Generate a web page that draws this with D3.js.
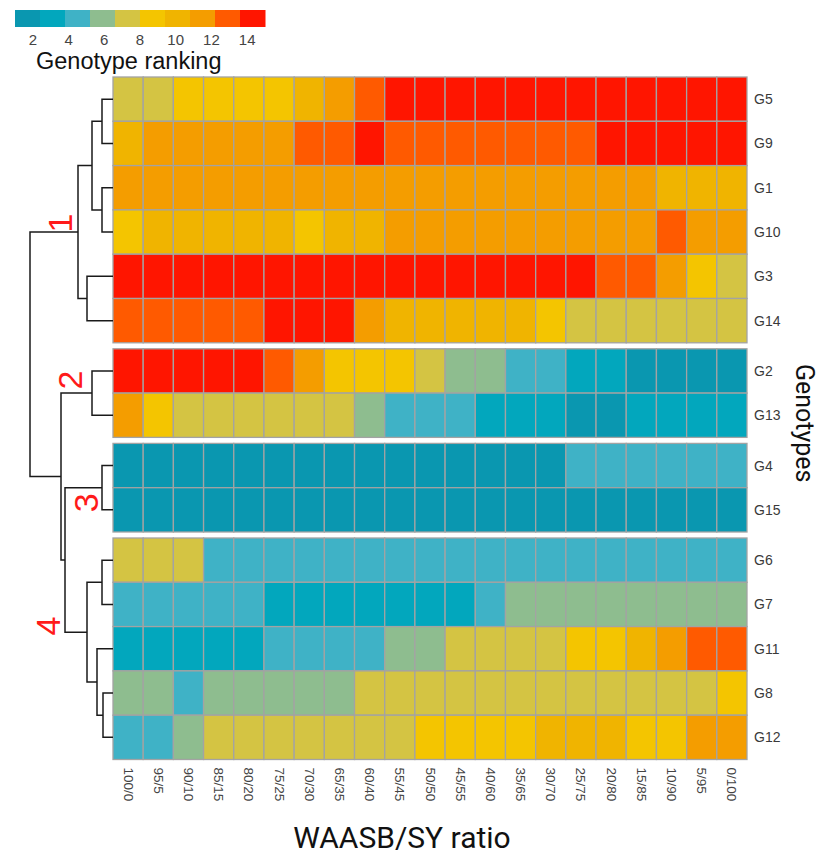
<!DOCTYPE html>
<html><head><meta charset="utf-8">
<script src="https://cdn.jsdelivr.net/npm/d3@7"></script>
<style>body{margin:0;background:#fff}svg{display:block}</style>
</head><body>
<svg id="chart" width="819" height="857"></svg>
<script>
// ---------- data ----------
const ratios = ["100/0","95/5","90/10","85/15","80/20","75/25","70/30","65/35","60/40","55/45","50/50",
                "45/55","40/60","35/65","30/70","25/75","20/80","15/85","10/90","5/95","0/100"];
const genotypes = ["G5","G9","G1","G10","G3","G14","G2","G13","G4","G15","G6","G7","G11","G8","G12"];
const clusters  = [1,1,1,1,1,1,2,2,3,3,4,4,4,4,4];
const legendTicks = [2,4,6,8,10,12,14];

const rankG5  = [7,7,9,9,9,9,10,11,13,15,15,15,15,15,15,15,15,15,15,15,15];
const rankG9  = [10,12,12,12,12,12,13,13,14,13,13,13,13,13,13,13,14,14,14,14,14];
const rankG1  = [11,11,11,11,11,11,11,11,11,12,12,12,12,12,12,12,12,12,10,10,10];
const rankG10 = [9,10,10,10,10,10,9,10,10,11,11,11,11,11,11,11,11,11,13,12,11];
const rankG3  = [15,15,15,15,15,14,14,14,15,14,14,14,14,14,14,14,13,13,12,9,7];
const rankG14 = [13,13,13,13,13,15,15,15,12,10,10,10,10,10,9,7,7,7,7,7,7];
const rankG2  = [14,14,14,14,14,13,12,9,9,9,7,6,6,5,5,3,3,2,2,2,2];
const rankG13 = [12,8,7,7,7,7,7,7,6,5,5,4,3,3,3,2,2,3,3,3,3];
const rankG4  = [2,2,2,2,2,2,2,2,2,2,2,2,2,2,2,4,4,4,4,4,4];
const rankG15 = [1,1,1,1,1,1,1,1,1,1,1,1,1,1,1,1,1,1,1,1,1];
const rankG6  = [7,7,7,4,4,4,4,4,4,4,4,4,4,4,4,4,4,4,4,4,4];
const rankG7  = [5,5,5,5,5,3,3,3,3,3,3,3,4,6,6,6,6,6,6,6,6];
const rankG11 = [3,3,3,3,3,4,4,4,4,6,6,7,7,7,7,9,9,10,11,13,13];
const rankG8  = [6,6,4,6,6,6,6,6,7,7,7,7,7,7,7,7,7,7,7,7,9];
const rankG12 = [4,4,6,7,7,7,7,7,7,7,9,9,9,9,10,10,10,9,9,12,12];

const rankings = {G5:rankG5,G9:rankG9,G1:rankG1,G10:rankG10,G3:rankG3,G14:rankG14,G2:rankG2,G13:rankG13,
                  G4:rankG4,G15:rankG15,G6:rankG6,G7:rankG7,G11:rankG11,G8:rankG8,G12:rankG12};

// dendrogram merges (children, merge height)
const merges = [
  {id:"a",  children:["G5","G9"],  height:1.1},
  {id:"b",  children:["G1","G10"], height:1.1},
  {id:"c",  children:["a","b"],    height:2.1},
  {id:"d",  children:["G3","G14"], height:2.6},
  {id:"k1", children:["c","d"],    height:3.5},
  {id:"k2", children:["G2","G13"], height:2.1},
  {id:"k3", children:["G4","G15"], height:1.1},
  {id:"g",  children:["G6","G7"],  height:1.1},
  {id:"h",  children:["G8","G12"], height:1.0},
  {id:"i",  children:["G11","h"],  height:1.6},
  {id:"k4", children:["g","i"],    height:2.6},
  {id:"j",  children:["k3","k4"],  height:4.8},
  {id:"l",  children:["k2","j"],   height:5.2},
  {id:"root", children:["k1","l"], height:8.3}
];
const clusterLabels = ["1","2","3","4"];

const palette = ["#0a97b0","#02a7bd","#3fb2c6","#8ebd8f","#d4c443","#f4c500","#f0b400","#f49d00","#ff5a00","#ff1500"];

// ---------- layout ----------
const svg = d3.select("#chart");
const hmLeft = 113, hmRight = 747, hmTop = 77, rowH = 44.3, groupGap = 6;

const color = d3.scaleQuantize().domain([1,15]).range(palette);
const x = d3.scaleBand().domain(ratios).range([hmLeft, hmRight]).padding(0);
const yBand = d3.scaleBand().domain(genotypes).range([hmTop, hmTop + rowH*genotypes.length]).padding(0);
const yPos = g => yBand(g) + (clusters[genotypes.indexOf(g)] - 1) * groupGap;
const yc = g => yPos(g) + yBand.bandwidth()/2;

// ---------- heatmap ----------
const cells = [];
genotypes.forEach(g => ratios.forEach((r,j) => cells.push({g, r, v: rankings[g][j]})));
svg.append("g").selectAll("rect").data(cells).join("rect")
  .attr("x", d => x(d.r)).attr("y", d => yPos(d.g))
  .attr("width", x.bandwidth()).attr("height", yBand.bandwidth())
  .attr("fill", d => color(d.v))
  .attr("stroke", "#a3a3a3").attr("stroke-width", 1.3);

// row labels
svg.append("g").selectAll("text").data(genotypes).join("text")
  .attr("x", hmRight + 7).attr("y", d => yc(d))
  .attr("dominant-baseline", "central")
  .attr("font-family", "Liberation Sans, Arial, sans-serif").attr("font-size", 14)
  .attr("fill", "#3a3a3a").text(d => d);

// column labels
const colBottom = yPos("G12") + yBand.bandwidth();
svg.append("g").selectAll("text").data(ratios).join("text")
  .attr("transform", d => `translate(${x(d) + x.bandwidth()/2},${colBottom + 8}) rotate(90)`)
  .attr("dominant-baseline", "central").attr("text-anchor", "start")
  .attr("font-family", "Liberation Sans, Arial, sans-serif").attr("font-size", 13.5)
  .attr("fill", "#444").text(d => d);

// axis titles
svg.append("text").attr("x", 402).attr("y", 848)
  .attr("text-anchor", "middle").attr("font-family", "Roboto, sans-serif").attr("font-size", 30)
  .attr("fill", "#111").text("WAASB/SY ratio");
svg.append("text").attr("transform", `translate(804,${(hmTop + colBottom)/2 + 5}) rotate(90)`)
  .attr("text-anchor", "middle").attr("dominant-baseline", "central")
  .attr("font-family", "Roboto, sans-serif").attr("font-size", 25)
  .attr("fill", "#111").text("Genotypes");

// ---------- dendrogram ----------
const maxH = d3.max(merges, m => m.height);
const hx = d3.scaleLinear().domain([0, maxH]).range([hmLeft, 30]);
const nodePos = {};
genotypes.forEach(g => nodePos[g] = {x: hx(0), y: yc(g)});
const dg = svg.append("g").attr("fill", "none").attr("stroke", "#1a1a1a").attr("stroke-width", 1.5);
merges.forEach(m => {
  const [c1, c2] = m.children.map(c => nodePos[c]);
  const nx = hx(m.height);
  const ny = (c1.y + c2.y) / 2;
  dg.append("path").attr("d", `M${c1.x},${c1.y}H${nx}V${c2.y}H${c2.x}`);
  nodePos[m.id] = {x: nx, y: ny};
});

// cluster labels (red, rotated)
const labelNodes = ["k1","k2","k3","k4"];
const labelOffsets = [[-18,-9],[-22,-13],[-16,15],[-39,-6]];
svg.append("g").selectAll("text").data(clusterLabels).join("text")
  .attr("transform", (d,i) => {
    const p = nodePos[labelNodes[i]];
    return `translate(${p.x + labelOffsets[i][0]},${p.y + labelOffsets[i][1]}) rotate(-90)`;
  })
  .attr("text-anchor", "middle").attr("dominant-baseline", "central")
  .attr("font-family", "Liberation Sans, Arial, sans-serif").attr("font-size", 34)
  .attr("fill", "#ff1a1a").text(d => d);

// ---------- legend ----------
const lx = d3.scaleLinear().domain([1,15]).range([15, 265]);
const lg = svg.append("g");
const step = (15 - 1) / palette.length;
lg.selectAll("rect").data(palette).join("rect")
  .attr("x", (d,i) => lx(1 + i*step)).attr("y", 10)
  .attr("width", lx(1 + step) - lx(1) + 0.5).attr("height", 17)
  .attr("fill", d => d);
lg.selectAll("text.tick").data(legendTicks).join("text").attr("class","tick")
  .attr("x", d => lx(d)).attr("y", 44.5).attr("text-anchor", "middle")
  .attr("font-family", "Liberation Sans, Arial, sans-serif").attr("font-size", 15)
  .attr("fill", "#444").text(d => d);
lg.append("text").attr("x", 36).attr("y", 69)
  .attr("font-family", "Liberation Sans, Arial, sans-serif").attr("font-size", 23.5)
  .attr("fill", "#111").text("Genotype ranking");
</script>
</body></html>
